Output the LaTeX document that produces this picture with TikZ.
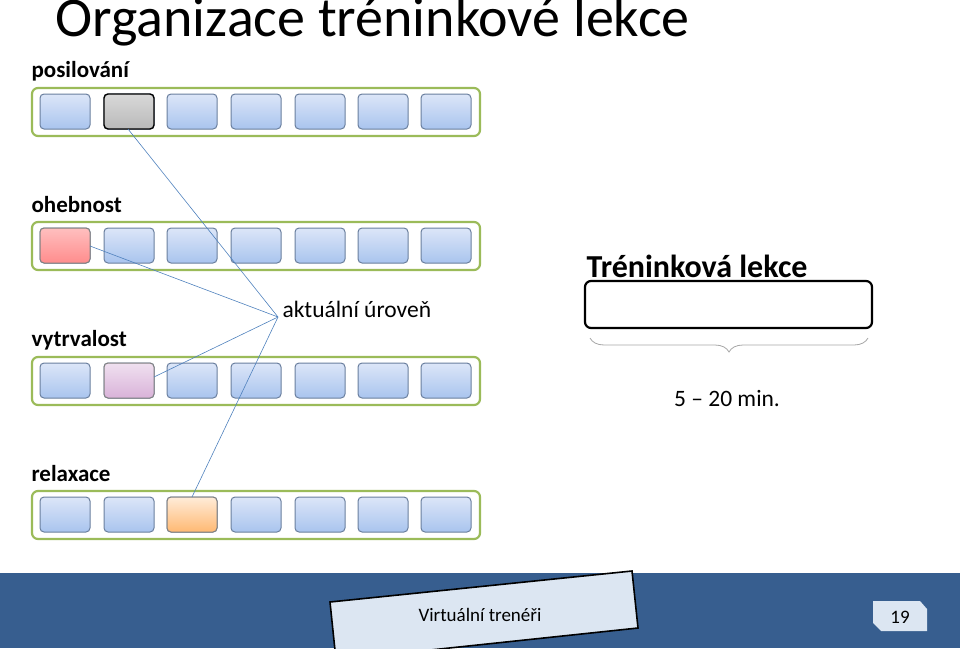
\documentclass[tikz,border=0pt]{standalone}
\usepackage{fontspec}
\setmainfont{Carlito}
\usetikzlibrary{decorations.pathreplacing}
\definecolor{frameg}{HTML}{9BBB59}
\definecolor{boxtop}{HTML}{DCE6F8}
\definecolor{boxbot}{HTML}{A9C4EE}
\definecolor{boxline}{HTML}{6A7F9E}
\definecolor{barblue}{HTML}{375E8F}
\definecolor{lightbox}{HTML}{DCE6F2}
\definecolor{linkc}{HTML}{4F81BD}
\tikzset{
 frame/.style={draw=frameg,line width=2.2pt,rounded corners=6pt},
 cell/.style={draw=boxline,line width=1pt,rounded corners=4pt,top color=boxtop,bottom color=boxbot},
 rowlabel/.style={anchor=west,font=\bfseries\fontsize{23}{27}\selectfont},
 link/.style={draw=linkc,line width=0.6pt}
}
\begin{document}
\begin{tikzpicture}[x=1pt,y=-1pt]
\useasboundingbox (0,0) rectangle (960,648);
\node[anchor=west,font=\fontsize{56}{64}\selectfont] (title) at (52,22) {Organizace tréninkové lekce};
\foreach \r/\y/\lab in {1/88/posilování,2/222/ohebnost,3/357/vytrvalost,4/491/relaxace}{
  \draw[frame] (32,\y) rectangle (480,\y+48);
  \node[rowlabel] (lab\r) at (28,\y-17) {\lab};
  \foreach \i/\x in {1/40,2/104,3/167,4/231,5/295,6/358,7/421}{
    \draw[cell] (\x,\y+6) rectangle (\x+50,\y+41);
    \coordinate (c\r\i) at (\x+25,\y+23);
  }
}
\draw[draw=black,line width=1.4pt,rounded corners=4pt,top color=gray!30,bottom color=gray!55] (104,94) rectangle (154,129);
\draw[cell,top color=red!25,bottom color=red!45,draw=gray] (40,228) rectangle (90,263);
\draw[cell,top color=violet!12,bottom color=violet!30,draw=gray] (104,363) rectangle (154,398);
\draw[cell,top color=orange!15,bottom color=orange!55,draw=gray] (167,497) rectangle (217,532);
\coordinate (hub) at (278,317);
\node[anchor=west,font=\fontsize{23.5}{28}\selectfont] (cur) at (279,309) {aktuální úroveň};
\draw[link] (128,129) -- (hub);
\draw[link] (90,246) -- (hub);
\draw[link] (154,377) -- (hub);
\draw[link] (192,497) -- (hub);
\node[font=\bfseries\fontsize{32}{38}\selectfont] (tl) at (697,266) {Tréninková lekce};
\draw[line width=2.2pt,rounded corners=6pt] (585,281) rectangle (872,328);
\draw[draw=gray!70,line width=0.8pt,decorate,decoration={brace,mirror,amplitude=14pt}] (590,338) -- (868,338);
\node[font=\fontsize{23.5}{28}\selectfont] (dur) at (727,398) {5 – 20 min.};
\fill[barblue] (0,573) rectangle (960,648);
\draw[fill=lightbox,line width=1.6pt] (330,602) -- (632,571) -- (638,628) -- (336,660) -- cycle;
\node[font=\fontsize{19}{23}\selectfont] (vt) at (480,615) {Virtuální trenéři};
\draw[fill=lightbox,draw=none] (880,601) -- (920,601) -- (927,609) -- (927,631) -- (881,631) -- (873,623) -- (873,601) -- cycle;
\node[font=\fontsize{19}{23}\selectfont] (pg) at (900,617) {19};
\end{tikzpicture}
\end{document}
